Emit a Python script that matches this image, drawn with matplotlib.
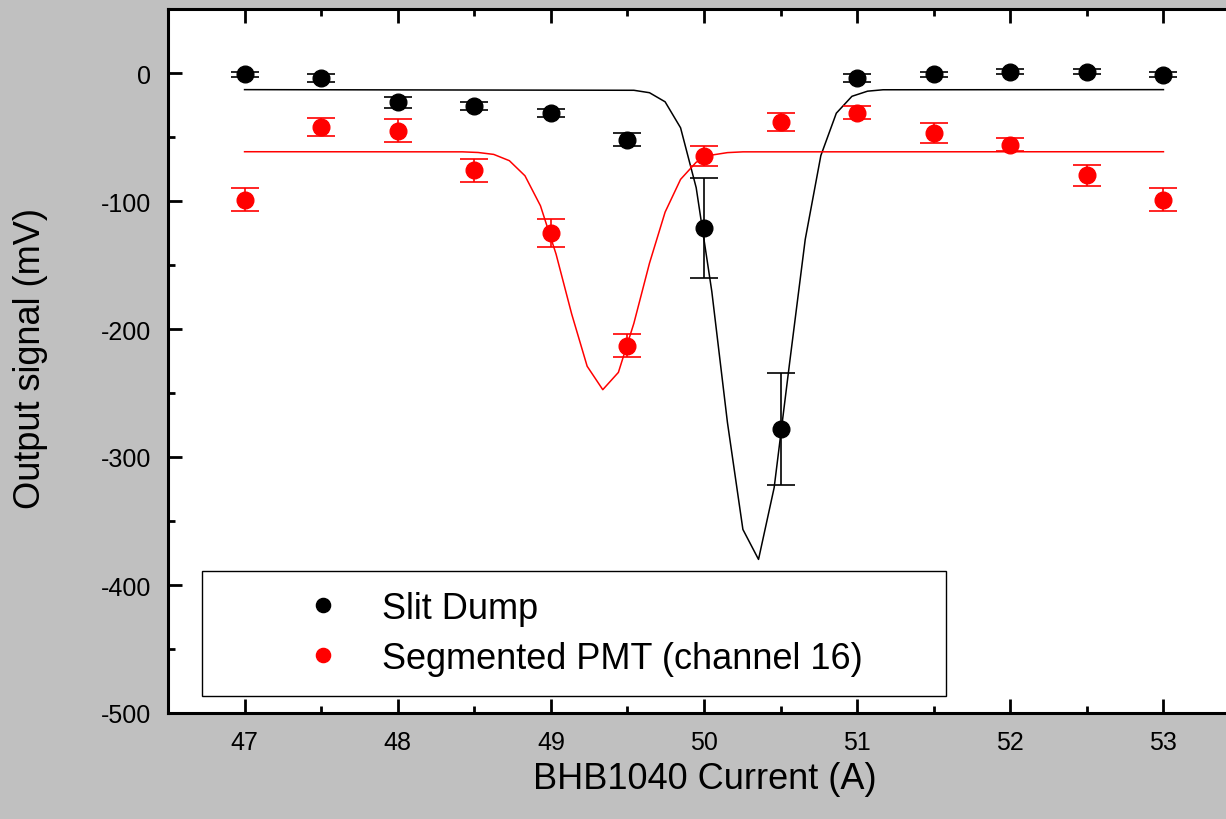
import numpy as np
import matplotlib.pyplot as plt
from matplotlib.ticker import MultipleLocator
from matplotlib.legend_handler import HandlerLine2D

plt.rcParams['font.family'] = ['Liberation Sans', 'DejaVu Sans']
plt.rcParams['axes.unicode_minus'] = False

current = [47, 47.5, 48, 48.5, 49, 49.5, 50, 50.5, 51, 51.5, 52, 52.5, 53]

slit_dump = [-1, -4, -23, -26, -31, -52, -121, -278, -4, -1, 1, 1, -1.5]
slit_dump_err = [2, 3, 4, 3, 3, 5, 39, 44, 3, 2, 2, 2, 2]

pmt16 = [-99, -42, -45, -76, -125, -213, -65, -38, -31, -47, -56, -80, -99]
pmt16_err = [9, 7, 9, 9, 11, 9, 8, 7, 5, 8, 5, 8, 9]

# gaussian fit curves
fit_slit_x = [47, 49.542, 49.644, 49.746, 49.847, 49.949, 50.051, 50.153, 50.254,
              50.356, 50.458, 50.559, 50.661, 50.763, 50.864, 50.966, 51.068, 51.169, 53]
fit_slit_y = [-13, -13.5, -15.4, -22.5, -42.8, -89.6, -170.7, -273, -356.6,
              -380, -324, -226.5, -130, -64.5, -31.4, -18.2, -14.2, -13.1, -13]

fit_pmt_x = [47, 48.424, 48.525, 48.627, 48.729, 48.831, 48.932, 49.034, 49.136, 49.237,
             49.339, 49.441, 49.542, 49.644, 49.746, 49.847, 49.949, 50.051, 50.153, 50.254, 53]
fit_pmt_y = [-61.5, -61.6, -62.1, -63.6, -68.5, -80.3, -103.7, -141.5, -188.3, -229.1,
             -247.4, -233.9, -195.6, -148.6, -108.7, -83.1, -69.7, -64.1, -62.2, -61.6, -61.5]

fig = plt.figure(figsize=(12.26, 8.2), dpi=100, facecolor='#c0c0c0')
ax = fig.add_axes([168/1226, 106/820, 1072/1226, 704/820])
ax.set_facecolor('white')

ax.plot(fit_slit_x, fit_slit_y, color='black', lw=1.1)
ax.plot(fit_pmt_x, fit_pmt_y, color='red', lw=1.1)

ax.errorbar(current, slit_dump, yerr=slit_dump_err, fmt='o', color='black', ms=12,
            capsize=10, elinewidth=1.2, capthick=1.2, label='Slit Dump')
ax.errorbar(current, pmt16, yerr=pmt16_err, fmt='o', color='red', ms=12,
            capsize=10, elinewidth=1.2, capthick=1.2, label='Segmented PMT (channel 16)')

ax.set_xlim(46.5, 53.5)
ax.set_ylim(-500, 50)
ax.xaxis.set_major_locator(MultipleLocator(1))
ax.xaxis.set_minor_locator(MultipleLocator(0.5))
ax.yaxis.set_major_locator(MultipleLocator(100))
ax.yaxis.set_minor_locator(MultipleLocator(50))
ax.tick_params(which='both', direction='in', top=True, right=True, width=2, labelsize=18)
ax.tick_params(which='major', length=10, pad=12)
ax.tick_params(which='minor', length=5)
for s in ax.spines.values():
    s.set_linewidth(2.2)

ax.set_xlabel('BHB1040 Current (A)', fontsize=26)
ax.set_ylabel('Output signal (mV)', fontsize=26)
ax.xaxis.set_label_coords(0.501, -0.068)
ax.yaxis.set_label_coords(-0.112, 0.505)

handles, labels = ax.get_legend_handles_labels()
handles = [h[0] for h in handles]
leg = ax.legend(handles, labels, loc='upper left', mode='expand',
                bbox_to_anchor=(202/1226, 1 - 691/820, 744/1226, 119/820),
                bbox_transform=fig.transFigure, fontsize=26, markerscale=0.85,
                frameon=True, fancybox=False, edgecolor='black', borderpad=0.55,
                labelspacing=0.42, handlelength=3.64, handletextpad=0.8,
                borderaxespad=0,
                handler_map={h: HandlerLine2D(xpad=1.97) for h in handles})
leg.get_frame().set_linewidth(1)
leg.get_frame().set_alpha(1)

fig.savefig('out.png', dpi=100, facecolor=fig.get_facecolor())
